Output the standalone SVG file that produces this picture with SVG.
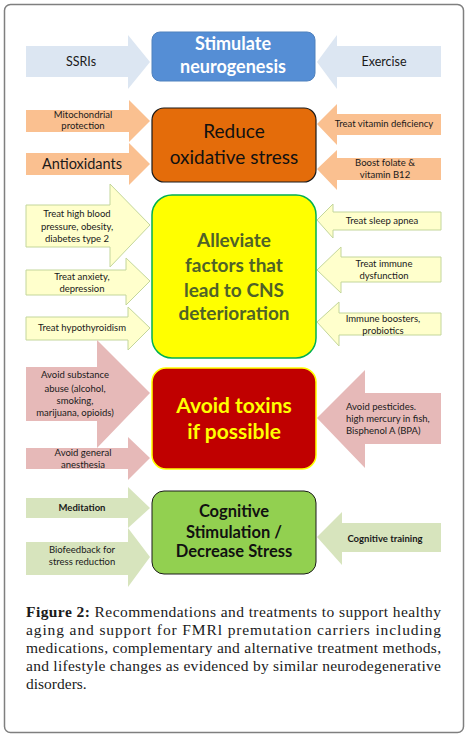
<svg xmlns="http://www.w3.org/2000/svg" width="469" height="737" viewBox="0 0 469 737">
<style>
.t{font-family:Lato,"Open Sans","Liberation Sans",sans-serif;text-anchor:middle;fill:#1a1a1a}
.s{font-size:9.5px}
.blue{fill:#DCE6F2}
.org{fill:#FAC090}
.yel{fill:#FFFFCC;stroke:#C3D69B;stroke-width:1}
.pnk{fill:#E6B9B8}
.grn{fill:#D7E4BD}
.cap{font-family:"Liberation Serif","Times New Roman",serif;font-size:15.5px;fill:#1a1a1a}
</style>
<rect x="4.5" y="4.5" width="459" height="728" rx="6" fill="#fff" stroke="#7f7f7f" stroke-width="1.5"/>
<g id="connectors">
<polygon class="blue" points="26,46 128,46 128,35 150,62 128,89 128,77 26,77"/>
<polygon class="blue" points="441,46 337,46 337,35 317,62 337,89 337,77 441,77"/>
<polygon class="org" points="26,110 129,110 129,100 150,121 129,142 129,132 26,132"/>
<polygon class="org" points="26,153 129,153 129,143 150,164 129,185 129,175 26,175"/>
<polygon class="org" points="441,114 337,114 337,104 317,124 337,145 337,135 441,135"/>
<polygon class="org" points="441,158 337,158 337,150 317,169 337,190 337,180 441,180"/>
<polygon class="yel" points="26,205 110,205 110,184 150,225 110,267 110,247 26,247"/>
<polygon class="yel" points="26,270 126,270 126,258 150,281 126,305 126,295 26,295"/>
<polygon class="yel" points="26,317 128,317 128,307 150,328 128,350 128,340 26,340"/>
<polygon class="yel" points="441,212 333,212 333,204 317,220 333,238 333,230 441,230"/>
<polygon class="yel" points="441,257 341,257 341,247 317,270 341,293 341,282 441,282"/>
<polygon class="yel" points="441,313 339,313 339,302 317,322 339,346 339,335 441,335"/>
<polygon class="pnk" points="26,367 97,367 97,340 150,393 97,448 97,421 26,421"/>
<polygon class="pnk" points="26,448 128,448 128,437 150,458 128,480 128,469 26,469"/>
<polygon class="pnk" points="441,393 365,393 365,370 317,418 365,468 365,444 441,444"/>
<polygon class="grn" points="26,498 128,498 128,487 150,508 128,528 128,518 26,518"/>
<polygon class="grn" points="26,542 128,542 128,528 150,557 128,587 128,575 26,575"/>
<polygon class="grn" points="441,523 342,523 342,512 317,537 342,565 342,552 441,552"/>
</g>
<g id="arrow-labels">
<text class="t" x="81" y="66" font-size="12.5">SSRIs</text>
<text class="t" x="384" y="66" font-size="12.5">Exercise</text>
<text class="t s" x="83" y="118">Mitochondrial</text>
<text class="t s" x="83" y="129">protection</text>
<text class="t" x="82" y="169" font-size="14.5">Antioxidants</text>
<text class="t s" x="384" y="127">Treat vitamin deficiency</text>
<text class="t s" x="385" y="166">Boost folate &amp;</text>
<text class="t s" x="385" y="178">vitamin B12</text>
<text class="t s" x="77" y="217">Treat high blood</text>
<text class="t s" x="77" y="230">pressure, obesity,</text>
<text class="t s" x="77" y="242">diabetes type 2</text>
<text class="t s" x="82" y="280">Treat anxiety,</text>
<text class="t s" x="82" y="292">depression</text>
<text class="t s" x="82" y="331">Treat hypothyroidism</text>
<text class="t s" x="382" y="224">Treat sleep apnea</text>
<text class="t s" x="384" y="267">Treat immune</text>
<text class="t s" x="384" y="279">dysfunction</text>
<text class="t s" x="383" y="322">Immune boosters,</text>
<text class="t s" x="383" y="334">probiotics</text>
<text class="t s" x="75" y="378">Avoid substance</text>
<text class="t s" x="75" y="392">abuse (alcohol,</text>
<text class="t s" x="75" y="404">smoking,</text>
<text class="t s" x="75" y="416">marijuana, opioids)</text>
<text class="t s" x="83" y="456">Avoid general</text>
<text class="t s" x="83" y="468">anesthesia</text>
<text class="t s" x="346" y="410" style="text-anchor:start">Avoid pesticides.</text>
<text class="t s" x="346" y="422" style="text-anchor:start">high mercury in fish,</text>
<text class="t s" x="346" y="434" style="text-anchor:start">Bisphenol A (BPA)</text>
<text class="t s" x="82" y="511" font-weight="bold">Meditation</text>
<text class="t s" x="82" y="553">Biofeedback for</text>
<text class="t s" x="82" y="565">stress reduction</text>
<text class="t s" x="385" y="542" font-weight="bold">Cognitive training</text>
</g>
<g id="stimulate">
<rect x="152" y="32" width="163" height="49" rx="8" fill="#558ED5" stroke="#4F81BD" stroke-width="1"/>
<text class="t" x="233" y="50" font-size="18" font-weight="bold" style="fill:#fff">Stimulate</text>
<text class="t" x="233" y="73" font-size="18" font-weight="bold" style="fill:#fff">neurogenesis</text>
</g>
<g id="reduce">
<rect x="152" y="108" width="164" height="74" rx="12" fill="#E46C0A" stroke="#1a1a1a" stroke-width="1.2"/>
<text class="t" x="234" y="138" font-size="19" style="fill:#111">Reduce</text>
<text class="t" x="234" y="164" font-size="19" style="fill:#111">oxidative stress</text>
</g>
<g id="alleviate">
<rect x="152" y="195" width="164" height="163" rx="20" fill="#FFFF00" stroke="#00B050" stroke-width="1.5"/>
<text class="t" x="234" y="247" font-size="19" font-weight="bold" style="fill:#4F6228">Alleviate</text>
<text class="t" x="234" y="272" font-size="19" font-weight="bold" style="fill:#4F6228">factors that</text>
<text class="t" x="234" y="297" font-size="19" font-weight="bold" style="fill:#4F6228">lead to CNS</text>
<text class="t" x="234" y="320" font-size="19" font-weight="bold" style="fill:#4F6228">deterioration</text>
</g>
<g id="toxins">
<rect x="152" y="368" width="164" height="101" rx="14" fill="#C00000" stroke="#FFFF00" stroke-width="1.5"/>
<text class="t" x="234" y="413" font-size="21" font-weight="bold" style="fill:#FFFF00">Avoid toxins</text>
<text class="t" x="234" y="439" font-size="21" font-weight="bold" style="fill:#FFFF00">if possible</text>
</g>
<g id="cognitive">
<rect x="152" y="491" width="164" height="83" rx="12" fill="#92D050" stroke="#1a1a1a" stroke-width="1"/>
<text class="t" x="234" y="517" font-size="16.5" font-weight="bold" style="fill:#111">Cognitive</text>
<text class="t" x="234" y="538" font-size="16.5" font-weight="bold" style="fill:#111">Stimulation /</text>
<text class="t" x="234" y="557" font-size="16.5" font-weight="bold" style="fill:#111">Decrease Stress</text>
</g>
<g id="caption">
<text class="cap" x="26" y="617" textLength="415" lengthAdjust="spacing"><tspan font-weight="bold">Figure 2:</tspan> Recommendations and treatments to support healthy</text>
<text class="cap" x="26" y="635" textLength="415" lengthAdjust="spacing">aging and support for FMRl premutation carriers including</text>
<text class="cap" x="26" y="653" textLength="415" lengthAdjust="spacing">medications, complementary and alternative treatment methods,</text>
<text class="cap" x="26" y="671" textLength="415" lengthAdjust="spacing">and lifestyle changes as evidenced by similar neurodegenerative</text>
<text class="cap" x="26" y="689">disorders.</text>
</g>
</svg>
